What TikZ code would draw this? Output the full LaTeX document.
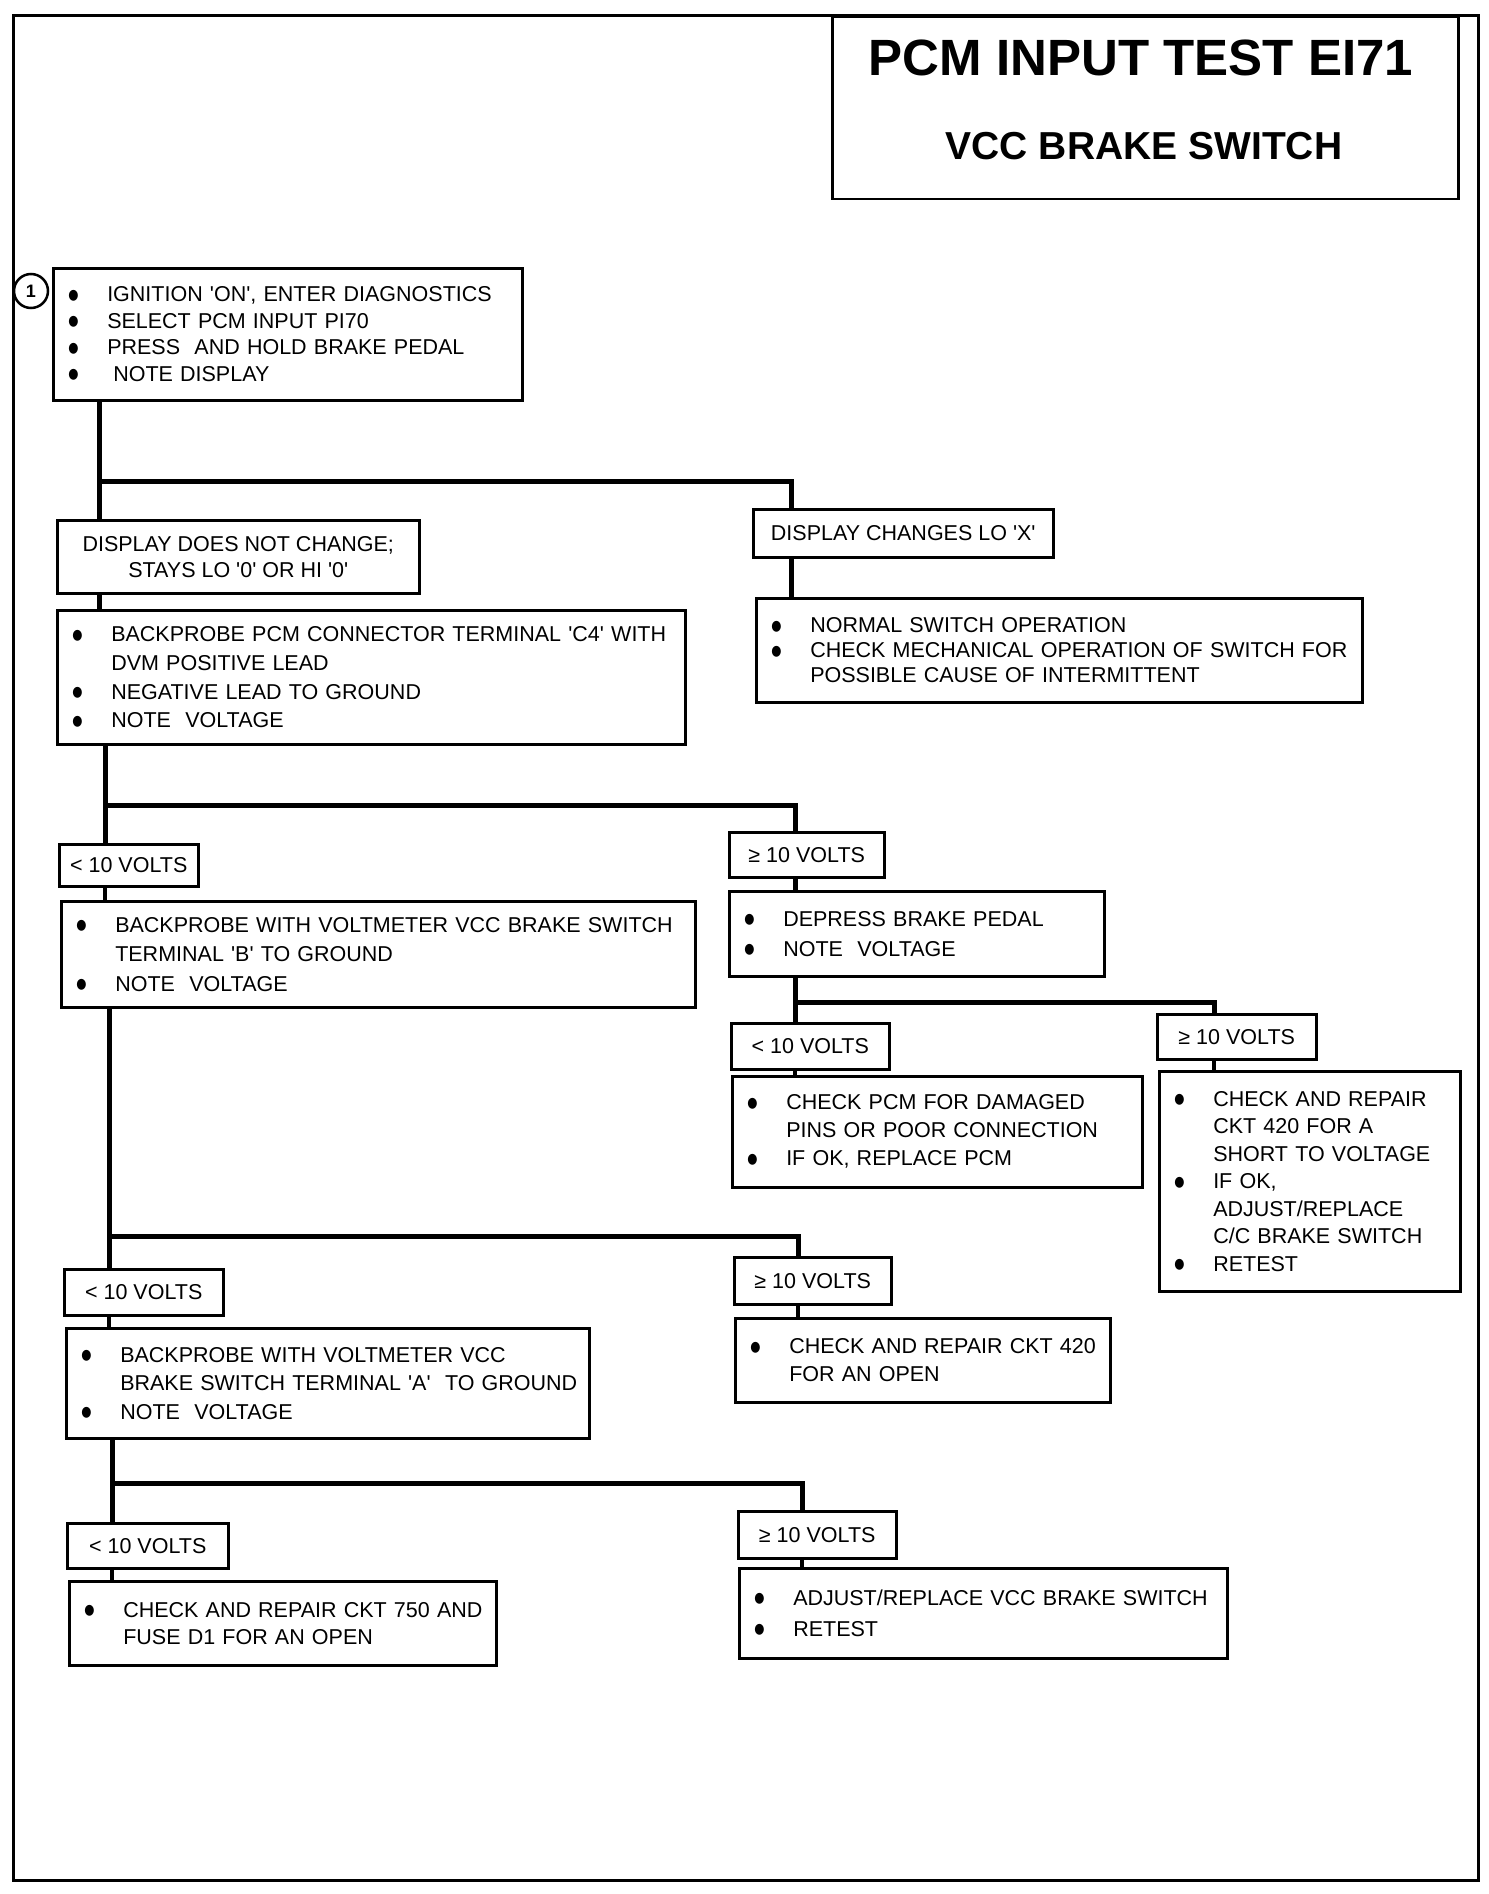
\documentclass[tikz,border=0pt]{standalone}
\usepackage{fontspec}
\setmainfont{Liberation Sans}
\newfontfamily\symfont{DejaVu Sans}
\usetikzlibrary{calc}
\newcommand{\bulmark}{\raisebox{2.5pt}{\scalebox{0.9}[1.1]{\symfont\fontsize{13}{13}\selectfont ●}}}
\newcommand{\bitem}[1]{\makebox[38pt][l]{\hspace*{-1pt}\bulmark}\mbox{#1}}
\newcommand{\citem}[1]{\hspace*{38pt}\mbox{#1}}
\newcommand{\sq}{\textquotesingle}
\tikzset{
  box/.style={draw, line width=2.5pt, anchor=north west, inner xsep=16pt, inner ysep=0pt, align=left, font=\fontsize{21.5}{28}\selectfont},
  lbl/.style={draw, line width=2.5pt, anchor=north west, inner sep=0pt, align=center, font=\fontsize{21.5}{26}\selectfont},
  conn/.style={line width=5pt},
  stem/.style={line width=4pt}
}
\begin{document}
\begin{tikzpicture}[x=1pt,y=-1pt]
\useasboundingbox (0,0) rectangle (1488,1894);
\fill[white] (0,0) rectangle (1488,1894);
% outer frame
\draw[line width=3pt] (13,16) rectangle (1478,1880);
% title
\node[draw, line width=2.5pt, anchor=north west, minimum width=626pt, minimum height=182pt, inner sep=0pt] (titlebox) at (831,16) {};
\node[font=\fontsize{51}{51}\selectfont\bfseries, inner sep=0pt] (title1) at (1141,58) {PCM INPUT TEST EI71};
\node[font=\fontsize{39}{39}\selectfont\bfseries, inner sep=0pt] (title2) at (1144,146) {VCC BRAKE SWITCH};
% step marker
\node[circle, draw, line width=2.5pt, minimum size=34pt, inner sep=0pt, font=\fontsize{18}{18}\selectfont\bfseries] (c1) at (31,291) {1};

% boxes
\node[box, text width=437pt, minimum width=469pt, minimum height=132pt, font=\fontsize{21.5}{26.5}\selectfont] (b1) at (52,267)
 {\bitem{IGNITION \sq ON\sq, ENTER DIAGNOSTICS}\\ \bitem{SELECT PCM INPUT PI70}\\ \bitem{PRESS\ \ AND HOLD BRAKE PEDAL}\\ \bitem{\hspace{6pt}NOTE DISPLAY}};
\node[lbl, minimum width=362pt, minimum height=73pt] (ddnc) at (56,519) {DISPLAY DOES NOT CHANGE;\\STAYS LO \sq 0\sq\ OR HI \sq 0\sq};
\node[lbl, minimum width=300pt, minimum height=48pt] (dcl) at (752,508) {DISPLAY CHANGES LO \sq X\sq};
\node[box, text width=574pt, minimum width=606pt, minimum height=104pt, font=\fontsize{21.5}{25}\selectfont] (nso) at (755,597)
 {\bitem{NORMAL SWITCH OPERATION}\\ \bitem{CHECK MECHANICAL OPERATION OF SWITCH FOR}\\ \citem{POSSIBLE CAUSE OF INTERMITTENT}};
\node[box, text width=596pt, minimum width=628pt, minimum height=134pt, font=\fontsize{21.5}{28.7}\selectfont] (bp) at (56,609)
 {\bitem{BACKPROBE PCM CONNECTOR TERMINAL \sq C4\sq\ WITH}\\ \citem{DVM POSITIVE LEAD}\\ \bitem{NEGATIVE LEAD TO GROUND}\\ \bitem{NOTE\ \ VOLTAGE}};

\node[lbl, minimum width=139pt, minimum height=42pt] (lt1) at (58,843) {< 10 VOLTS};
\node[lbl, minimum width=155pt, minimum height=45pt] (ge1) at (728,831) {≥ 10 VOLTS};
\node[box, text width=602pt, minimum width=634pt, minimum height=106pt, font=\fontsize{21.5}{29.5}\selectfont] (bwvb) at (60,900)
 {\bitem{BACKPROBE WITH VOLTMETER VCC BRAKE SWITCH}\\ \citem{TERMINAL \sq B\sq\ TO GROUND}\\ \bitem{NOTE\ \ VOLTAGE}};
\node[box, text width=343pt, minimum width=375pt, minimum height=85pt, font=\fontsize{21.5}{30}\selectfont] (dbp) at (728,890)
 {\bitem{DEPRESS BRAKE PEDAL}\\ \bitem{NOTE\ \ VOLTAGE}};

\node[lbl, minimum width=158pt, minimum height=46pt] (lt2) at (730,1022) {< 10 VOLTS};
\node[lbl, minimum width=159pt, minimum height=45pt] (ge2) at (1156,1013) {≥ 10 VOLTS};
\node[box, text width=378pt, minimum width=410pt, minimum height=111pt, font=\fontsize{21.5}{28}\selectfont] (cpcm) at (731,1075)
 {\bitem{CHECK PCM FOR DAMAGED}\\ \citem{PINS OR POOR CONNECTION}\\ \bitem{IF OK, REPLACE PCM}};
\node[box, text width=269pt, minimum width=301pt, minimum height=220pt, font=\fontsize{21.5}{27.5}\selectfont] (c420s) at (1158,1070)
 {\bitem{CHECK AND REPAIR}\\ \citem{CKT 420 FOR A}\\ \citem{SHORT TO VOLTAGE}\\ \bitem{IF OK,}\\ \citem{ADJUST/REPLACE}\\ \citem{C/C BRAKE SWITCH}\\ \bitem{RETEST}};

\node[lbl, minimum width=159pt, minimum height=46pt] (lt3) at (63,1268) {< 10 VOLTS};
\node[lbl, minimum width=157pt, minimum height=47pt] (ge3) at (733,1256) {≥ 10 VOLTS};
\node[box, text width=491pt, minimum width=523pt, minimum height=110pt, font=\fontsize{21.5}{28.5}\selectfont] (bwva) at (65,1327)
 {\bitem{BACKPROBE WITH VOLTMETER VCC}\\ \citem{BRAKE SWITCH TERMINAL \sq A\sq\ \ TO GROUND}\\ \bitem{NOTE\ \ VOLTAGE}};
\node[box, text width=343pt, minimum width=375pt, minimum height=84pt, font=\fontsize{21.5}{28}\selectfont] (c420o) at (734,1317)
 {\bitem{CHECK AND REPAIR CKT 420}\\ \citem{FOR AN OPEN}};

\node[lbl, minimum width=161pt, minimum height=45pt] (lt4) at (66,1522) {< 10 VOLTS};
\node[lbl, minimum width=158pt, minimum height=47pt] (ge4) at (737,1510) {≥ 10 VOLTS};
\node[box, text width=395pt, minimum width=427pt, minimum height=84pt, font=\fontsize{21.5}{27}\selectfont] (c750) at (68,1580)
 {\bitem{CHECK AND REPAIR CKT 750 AND}\\ \citem{FUSE D1 FOR AN OPEN}};
\node[box, text width=456pt, minimum width=488pt, minimum height=90pt, font=\fontsize{21.5}{31}\selectfont] (adj) at (738,1567)
 {\bitem{ADJUST/REPLACE VCC BRAKE SWITCH}\\ \bitem{RETEST}};

% connector guides
\coordinate (t1) at (99,0);
\coordinate (r1) at (791,0);
\coordinate (j1) at (99,481);
\coordinate (t2) at (105,0);
\coordinate (r2) at (795,0);
\coordinate (j2) at (105,805);
\coordinate (r3) at (1214,0);
\coordinate (j3) at (795,1002);
\coordinate (t3) at (109,0);
\coordinate (r4) at (798,0);
\coordinate (j4) at (109,1236);
\coordinate (t4) at (112,0);
\coordinate (r5) at (802,0);
\coordinate (j5) at (112,1483);

% connectors
\draw[conn] (b1.south -| t1) -- (ddnc.north -| t1);
\draw[conn] (j1) -| (dcl.north -| r1);
\draw[conn] (dcl.south -| r1) -- (nso.north -| r1);
\draw[conn] (ddnc.south -| t1) -- (bp.north -| t1);

\draw[conn] (bp.south -| t2) -- (lt1.north -| t2);
\draw[conn] (j2) -| (ge1.north -| r2);
\draw[stem] (lt1.south -| t2) -- (bwvb.north -| t2);
\draw[conn] (ge1.south -| r2) -- (dbp.north -| r2);

\draw[conn] (dbp.south -| r2) -- (lt2.north -| r2);
\draw[conn] (j3) -| (ge2.north -| r3);
\draw[stem] (lt2.south -| r2) -- (cpcm.north -| r2);
\draw[stem] (ge2.south -| r3) -- (c420s.north -| r3);

\draw[conn] (bwvb.south -| t3) -- (lt3.north -| t3);
\draw[conn] (j4) -| (ge3.north -| r4);
\draw[stem] (lt3.south -| t3) -- (bwva.north -| t3);
\draw[stem] (ge3.south -| r4) -- (c420o.north -| r4);

\draw[conn] (bwva.south -| t4) -- (lt4.north -| t4);
\draw[conn] (j5) -| (ge4.north -| r5);
\draw[stem] (lt4.south -| t4) -- (c750.north -| t4);
\draw[stem] (ge4.south -| r5) -- (adj.north -| r5);
\end{tikzpicture}
\end{document}
